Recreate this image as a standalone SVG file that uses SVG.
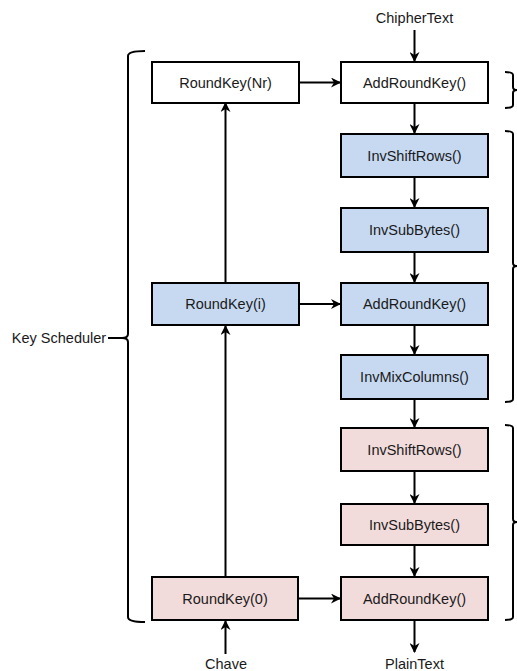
<svg xmlns="http://www.w3.org/2000/svg" width="517" height="671" viewBox="0 0 517 671">
<style>
.box{stroke:#000;stroke-width:2}
.w{fill:#fff}.b{fill:#c6d9f1}.p{fill:#f2dcdb}
text{font-family:"Liberation Sans",Arial,sans-serif;font-size:14.5px;fill:#1a1a1a;text-anchor:middle}
.c line{stroke:#000;stroke-width:2;marker-end:url(#ah)}
.br{fill:none;stroke:#000;stroke-width:2}
</style>
<defs>
<marker id="ah" viewBox="0 0 10 10" refX="9" refY="5" markerWidth="5" markerHeight="5" orient="auto" markerUnits="strokeWidth">
<path d="M0,0 L10,5 L0,10 L3,5 Z" fill="#000"/>
</marker>
</defs>
<rect width="517" height="671" fill="#fff"/>
<g class="br">
<path d="M145,51 Q128,51 128,56 L128,334 Q128,338 122,338 L108,338 M122,338 Q128,338 128,342 L128,617 Q128,622 145,622"/>
<path d="M505,72 Q513,72 513,75 L513,87 Q513,90 517,90 Q513,90 513,93 L513,105 Q513,108 505,108"/>
<path d="M505,131 Q513,131 513,134 L513,263 Q513,266 517,266 Q513,266 513,269 L513,399 Q513,402 505,402"/>
<path d="M505,425 Q513,425 513,428 L513,519 Q513,522 517,522 Q513,522 513,525 L513,617 Q513,620 505,620"/>
</g>
<g class="c">
<line x1="414.5" y1="30" x2="414.5" y2="61"/>
<line x1="414.5" y1="103" x2="414.5" y2="133"/>
<line x1="414.5" y1="177" x2="414.5" y2="207"/>
<line x1="414.5" y1="252" x2="414.5" y2="282"/>
<line x1="414.5" y1="325" x2="414.5" y2="354"/>
<line x1="414.5" y1="399" x2="414.5" y2="427"/>
<line x1="414.5" y1="471" x2="414.5" y2="503"/>
<line x1="414.5" y1="545" x2="414.5" y2="576"/>
<line x1="414.5" y1="620" x2="414.5" y2="652"/>
<line x1="300" y1="82.5" x2="340" y2="82.5"/>
<line x1="300" y1="304" x2="340" y2="304"/>
<line x1="299" y1="598.5" x2="340" y2="598.5"/>
<line x1="225.5" y1="282" x2="225.5" y2="103"/>
<line x1="225.5" y1="577" x2="225.5" y2="326"/>
<line x1="225.5" y1="654" x2="225.5" y2="621"/>
</g>
<g id="rk-nr"><rect class="box w" x="152" y="62" width="147" height="41"/><text x="225.5" y="87.5">RoundKey(Nr)</text></g>
<g id="ark1"><rect class="box w" x="341" y="62" width="147" height="41"/><text x="414.5" y="87.5">AddRoundKey()</text></g>
<g id="isr1"><rect class="box b" x="341" y="134" width="147" height="43"/><text x="414.5" y="160.5">InvShiftRows()</text></g>
<g id="isb1"><rect class="box b" x="341" y="208" width="147" height="44"/><text x="414.5" y="235">InvSubBytes()</text></g>
<g id="rk-i"><rect class="box b" x="152" y="283" width="147" height="42"/><text x="225.5" y="309">RoundKey(i)</text></g>
<g id="ark2"><rect class="box b" x="341" y="283" width="147" height="42"/><text x="414.5" y="309">AddRoundKey()</text></g>
<g id="imc"><rect class="box b" x="341" y="355" width="147" height="44"/><text x="414.5" y="382">InvMixColumns()</text></g>
<g id="isr2"><rect class="box p" x="341" y="428" width="147" height="43"/><text x="414.5" y="454.5">InvShiftRows()</text></g>
<g id="isb2"><rect class="box p" x="341" y="504" width="147" height="41"/><text x="414.5" y="529.5">InvSubBytes()</text></g>
<g id="rk-0"><rect class="box p" x="152" y="577" width="146" height="43"/><text x="225" y="603.5">RoundKey(0)</text></g>
<g id="ark3"><rect class="box p" x="341" y="577" width="147" height="43"/><text x="414.5" y="603.5">AddRoundKey()</text></g>
<text x="414.5" y="23">ChipherText</text>
<text x="226" y="669">Chave</text>
<text x="414.5" y="669">PlainText</text>
<text x="59" y="343">Key Scheduler</text>
</svg>
